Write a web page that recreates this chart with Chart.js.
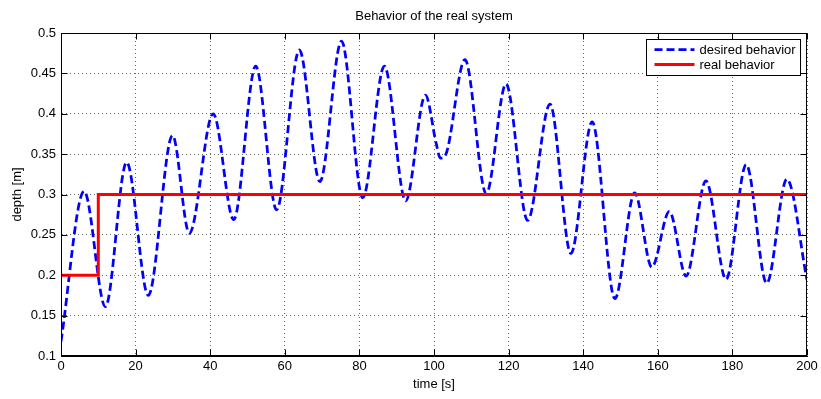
<!DOCTYPE html>
<html><head><meta charset="utf-8">
<script src="https://cdn.jsdelivr.net/npm/chart.js@4"></script>
<style>html,body{margin:0;padding:0;background:#fff;}canvas{display:block}</style>
</head><body>
<canvas id="c" width="821" height="399"></canvas>
<script>
const chartTitle = 'Behavior of the real system';
const xTitle = 'time [s]';
const yTitle = 'depth [m]';
const seriesLabels = ['desired behavior', 'real behavior'];

const desiredTime  = [0, 6.2, 11.9, 17.6, 23.4, 29.9, 34.4, 40.8, 46.3, 52.2, 57.8, 63.9, 69.4, 75.2, 80.9, 86.7, 92.4, 97.7, 100.6, 101.7, 103.0, 108.3, 114.0, 119.3, 125.1, 131.1, 136.7, 142.4, 148.5, 153.8, 158.4, 163.1, 167.6, 172.9, 178.3, 183.7, 189.2, 194.6, 200];
const desiredDepth = [0.118, 0.304, 0.161, 0.340, 0.175, 0.373, 0.252, 0.400, 0.269, 0.459, 0.281, 0.479, 0.316, 0.490, 0.296, 0.459, 0.292, 0.423, 0.363, 0.345, 0.348, 0.467, 0.301, 0.437, 0.268, 0.412, 0.227, 0.390, 0.171, 0.302, 0.210, 0.279, 0.199, 0.317, 0.195, 0.337, 0.190, 0.319, 0.194];

const realTime  = [0, 10, 10, 200];
const realDepth = [0.2, 0.2, 0.3, 0.3];

const xTicks = [0, 20, 40, 60, 80, 100, 120, 140, 160, 180, 200];
const xTickLabels = ['0', '20', '40', '60', '80', '100', '120', '140', '160', '180', '200'];
const yTicks = [0.1, 0.15, 0.2, 0.25, 0.3, 0.35, 0.4, 0.45, 0.5];
const yTickLabels = ['0.1', '0.15', '0.2', '0.25', '0.3', '0.35', '0.4', '0.45', '0.5'];

const FONT = 'Liberation Sans, Arial, Helvetica, sans-serif';
const toPts = (xs, ys) => xs.map((x, i) => ({x: x, y: ys[i]}));

const framePlugin = {
  id: 'frameTicksLegend',
  afterDraw(chart) {
    const ctx = chart.ctx;
    const a = chart.chartArea;
    const xs = chart.scales.x, ys = chart.scales.y;
    const L = Math.round(a.left) + 0.5, R = Math.round(a.right) - 0.5;
    const T = Math.round(a.top) + 0.5, B = Math.round(a.bottom) - 0.5;
    ctx.save();
    ctx.strokeStyle = '#000';
    ctx.lineWidth = 1;
    ctx.strokeRect(L, T, R - L, B - T);
    const tl = 6;
    ctx.beginPath();
    xTicks.forEach(v => {
      const px = Math.round(xs.getPixelForValue(v)) + 0.5;
      ctx.moveTo(px, B); ctx.lineTo(px, B - tl);
      ctx.moveTo(px, T); ctx.lineTo(px, T + tl);
    });
    yTicks.forEach(v => {
      const py = Math.round(ys.getPixelForValue(v)) + 0.5;
      ctx.moveTo(L, py); ctx.lineTo(L + tl, py);
      ctx.moveTo(R, py); ctx.lineTo(R - tl, py);
    });
    ctx.stroke();

    // legend
    ctx.font = '13px ' + FONT;
    const tw = Math.max(...seriesLabels.map(s => ctx.measureText(s).width));
    const boxR = Math.round(a.right) - 6.5;
    const boxT = Math.round(a.top) + 6.5;
    const boxW = Math.round(53 + tw + 5);
    const boxH = 36;
    const boxL = boxR - boxW;
    ctx.fillStyle = '#fff';
    ctx.fillRect(boxL, boxT, boxW, boxH);
    ctx.strokeStyle = '#000';
    ctx.strokeRect(boxL, boxT, boxW, boxH);
    const ds = chart.data.datasets;
    const rows = [boxT + 10, boxT + 25];
    ds.forEach((d, i) => {
      ctx.save();
      ctx.strokeStyle = d.borderColor;
      ctx.lineWidth = d.borderWidth;
      ctx.setLineDash(d.borderDash || []);
      ctx.beginPath();
      ctx.moveTo(boxL + 8, rows[i]);
      ctx.lineTo(boxL + 48, rows[i]);
      ctx.stroke();
      ctx.restore();
      ctx.fillStyle = '#000';
      ctx.textBaseline = 'middle';
      ctx.textAlign = 'left';
      ctx.fillText(d.label, boxL + 53, rows[i] + 0.5);
    });
    ctx.restore();
  }
};

new Chart(document.getElementById('c'), {
  type: 'line',
  data: {
    datasets: [
      {
        label: seriesLabels[0],
        data: toPts(desiredTime, desiredDepth),
        borderColor: '#0000ff',
        borderWidth: 2.75,
        borderDash: [8, 4],
        pointRadius: 0,
        fill: false,
        cubicInterpolationMode: 'monotone',
        order: 2
      },
      {
        label: seriesLabels[1],
        data: toPts(realTime, realDepth),
        borderColor: '#ff0000',
        borderWidth: 3,
        pointRadius: 0,
        fill: false,
        tension: 0,
        order: 1
      }
    ]
  },
  options: {
    responsive: false,
    animation: false,
    events: [],
    layout: {padding: {left: 0, right: 14, top: 0, bottom: 0}},
    plugins: {
      legend: {display: false},
      tooltip: {enabled: false},
      title: {
        display: true,
        text: chartTitle,
        fullSize: false,
        color: '#000',
        font: {family: FONT, size: 13, weight: 'normal'},
        padding: {top: 9, bottom: 8.4}
      }
    },
    scales: {
      x: {
        type: 'linear',
        min: 0, max: 200,
        afterBuildTicks: s => { s.ticks = xTicks.map(v => ({value: v})); },
        afterFit: s => { s.height = 43; },
        ticks: {
          color: '#000',
          font: {family: FONT, size: 13},
          padding: 3,
          maxRotation: 0,
          autoSkip: false,
          callback: (v, i) => xTickLabels[i]
        },
        grid: {color: 'rgba(0,0,0,0.6)', lineWidth: 1, drawTicks: false},
        border: {display: true, color: '#000', width: 1, dash: [1, 3]},
        title: {display: true, text: xTitle, color: '#000', font: {family: FONT, size: 13}, padding: {top: 0, bottom: 7}}
      },
      y: {
        type: 'linear',
        min: 0.1, max: 0.5,
        afterBuildTicks: s => { s.ticks = yTicks.map(v => ({value: v})); },
        afterFit: s => { s.width = 61; },
        ticks: {
          color: '#000',
          font: {family: FONT, size: 13},
          padding: 5,
          autoSkip: false,
          callback: (v, i) => yTickLabels[i]
        },
        grid: {color: 'rgba(0,0,0,0.6)', lineWidth: 1, drawTicks: false},
        border: {display: true, color: '#000', width: 1, dash: [1, 3]},
        title: {display: true, text: yTitle, color: '#000', font: {family: FONT, size: 13}, padding: {top: 10, bottom: 0}}
      }
    }
  },
  plugins: [framePlugin]
});
</script>
</body></html>
